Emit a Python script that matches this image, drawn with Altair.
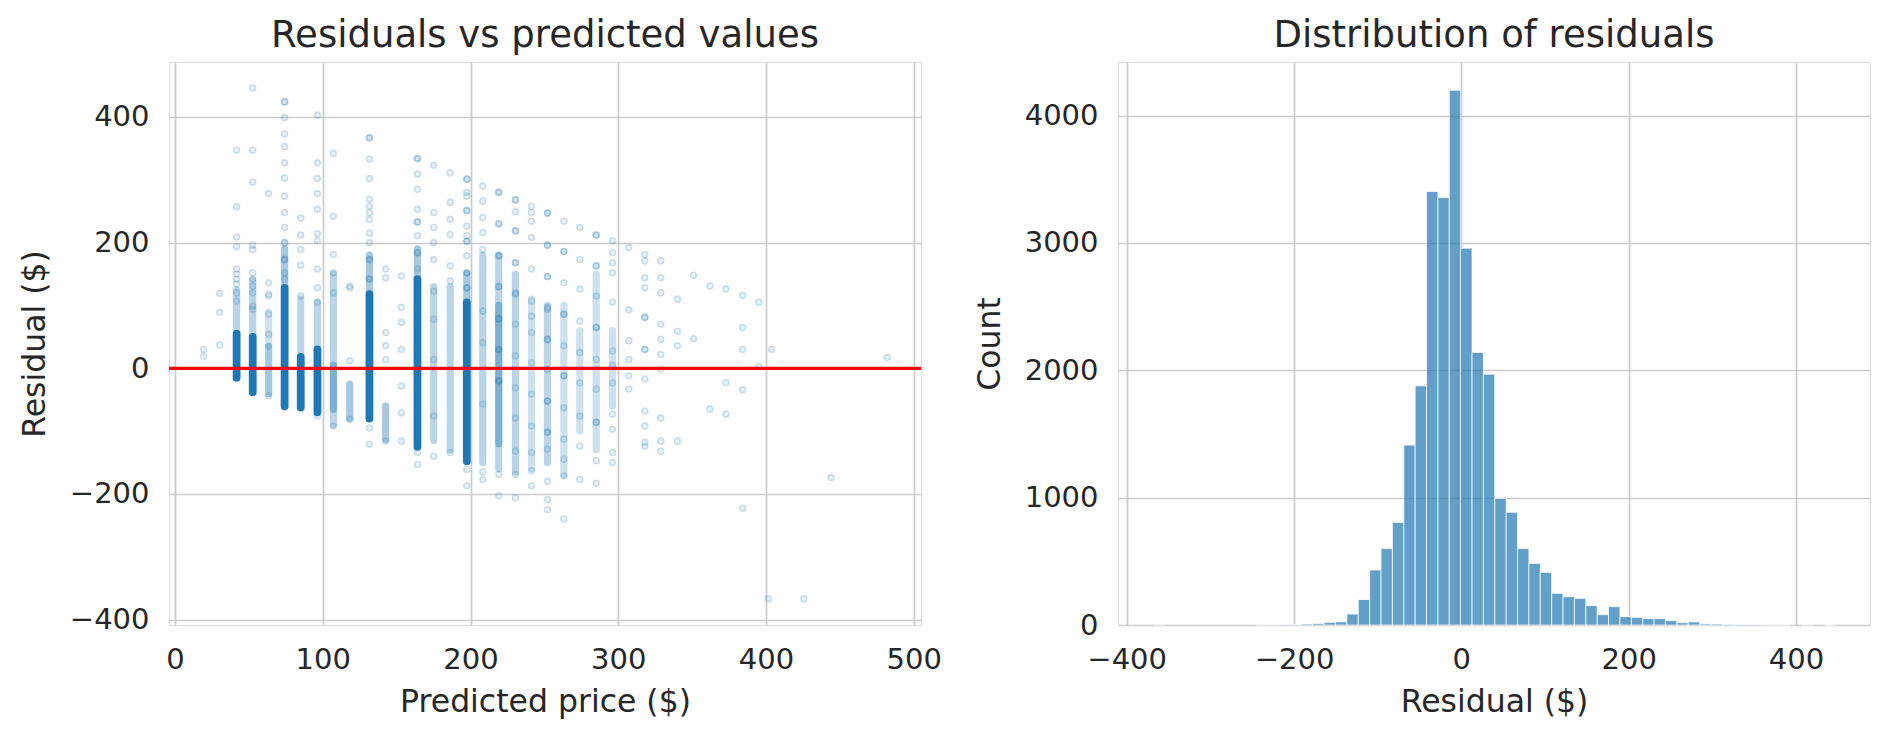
import altair as alt
import pandas as pd

BLUE = "#1f77b4"
INK = "#262626"
GRID = "#cccccc"
FONT = "DejaVu Sans"

# ---------------- left panel: residuals vs predicted values ----------------
# saturated (heavily over-plotted) column segments
dense_x = [41.7, 52.6, 74.2, 85.1, 96.4, 131.6, 164.1, 197.5]
dense_lo = [-15, -38, -60, -62, -70, -80, -125, -148]
dense_hi = [55, 50, 128, 18, 30, 118, 142, 105]

# partially over-plotted column segments and how dense they look
band_x = [41.7, 52.6, 63.4, 63.4, 74.2, 85.1, 96.4, 107.2, 107.2, 118.3, 131.6,
          142.6, 164.1, 175.1, 186.3, 197.5, 208.3, 219.1, 219.1, 230.4, 241.3,
          252.1, 263.2, 274.0, 285.1, 296.1]
band_lo = [55, 50, -40, 35, 128, 18, 30, -90, -65, -80, 118,
           -113, 142, -115, -130, 105, -150, -160, -120, -165, -160,
           -150, -170, -100, -130, -60]
band_hi = [125, 140, 35, 90, 190, 110, 105, 150, 5, -25, 180,
           -60, 190, 130, 130, 150, 180, 180, 100, 150, 110,
           100, 100, 60, 150, 60]
band_lvl = ["mid", "mid", "high", "low", "high", "mid", "mid", "mid", "high", "high", "high",
            "high", "high", "mid", "mid", "high", "mid", "mid", "high", "mid", "low",
            "mid", "low", "low", "low", "low"]

# individual (sparse) points: predicted value and residual
pt_x = ([19.4] * 2 + [30.2] * 3 + [41.7] * 10 + [52.6] * 11 + [63.4] * 7 + [74.2] * 17
        + [85.1] * 6 + [96.4] * 11 + [107.2] * 6 + [118.3] * 4 + [131.6] * 16 + [142.6] * 6
        + [153.2] * 7 + [164.1] * 13 + [175.1] * 10 + [186.3] * 7 + [197.5] * 17
        + [208.3] * 10 + [219.1] * 16 + [230.4] * 16 + [241.3] * 14 + [252.1] * 19
        + [263.2] * 14 + [274.0] * 9 + [285.1] * 13 + [296.1] * 12 + [307.2] * 6
        + [318.0] * 13 + [328.8] * 10 + [340.1] * 4 + [351.0] * 2 + [362.0] * 2
        + [372.9] * 3 + [384.2] * 5 + [395.2] * 2 + [403.8, 401.5, 425.5, 444.0, 482.0])
pt_y = ([30, 19]
        + [119, 89, 37]
        + [347, 257, 209, 194, 158, 150, 142, 134, 120, 107]
        + [446, 347, 296, 196, 189, 152, 142, 131, 120, 99, 94]
        + [278, 136, 118, 115, 86, 54, -44]
        + [424, 424, 399, 373, 353, 327, 303, 274, 248, 224, 200, 200, 173, 173, 152, 142, -63]
        + [239, 212, 189, 164, 115, -65]
        + [403, 327, 302, 278, 253, 214, 203, 158, 128, 105, -76]
        + [342, 242, 181, 152, 120, -92]
        + [131, 128, 12, -81]
        + [367, 367, 333, 302, 269, 258, 248, 237, 215, 200, 173, 173, 142, 142, -95, -121]
        + [158, 144, 57, 36, 14, -116]
        + [147, 97, 73, 30, -28, -71, -116]
        + [334, 334, 309, 285, 253, 233, 233, 211, 184, 184, 158, -134, -153]
        + [323, 248, 224, 200, 173, 123, 78, 14, -76, -140]
        + [311, 264, 237, 213, 163, 139, -134]
        + [301, 301, 280, 274, 251, 251, 226, 211, 202, 202, 179, 152, 152, 128, 128, -161, -187]
        + [290, 266, 240, 216, 189, 91, 41, -57, -165, -177]
        + [280, 280, 230, 230, 179, 179, 130, 130, 79, 79, 30, 30, -20, -20, -169, -203]
        + [268, 268, 249, 219, 219, 168, 168, 120, 118, 70, 20, -31, -79, -132, -169, -206]
        + [258, 248, 234, 208, 158, 107, 83, 57, 9, -41, -92, -134, -163, -187]
        + [247, 247, 196, 196, 146, 146, 94, 97, 46, 46, -2, -52, -52, -102, -102, -129, -180, -209, -225]
        + [234, 186, 186, 136, 86, 86, 36, -12, -12, -63, -113, -145, -171, -240]
        + [224, 173, 126, 75, 25, -23, -76, -124, -177]
        + [212, 212, 163, 163, 115, 65, 65, 14, -33, -86, -86, -147, -183]
        + [203, 184, 168, 152, 105, 28, 5, -23, -73, -97, -134, -150]
        + [192, 93, 44, 14, -12, -33]
        + [181, 171, 144, 128, 81, 81, 30, 30, -17, -68, -92, -118, -124]
        + [171, 144, 120, 70, 46, 22, -2, -79, -116, -132]
        + [110, 59, 36, -116]
        + [148, 47]
        + [131, -65]
        + [126, -23, -73]
        + [116, 65, 30, -34, -223]
        + [105, 3]
        + [30, -367, -367, -174, 17])

# ---------------- right panel: histogram of residuals ----------------
bin_lo_edge = -368.0
bin_width = 13.6
counts = [2, 0, 0, 0, 0, 0, 0, 0, 0, 1, 2, 3, 4, 8, 12, 20, 25, 86, 200, 432,
          600, 806, 1413, 1878, 3404, 3357, 4199, 2959, 2140, 1970, 994, 885, 600, 484,
          413, 249, 222, 209, 152, 81, 144, 65, 60, 50, 50, 34, 18, 24, 10, 8,
          5, 4, 3, 2, 1, 1, 0, 1, 0, 1]

# ---------------- build ----------------
W, H = 752, 563

xsc_l = alt.Scale(domain=[-4.06, 504.9], nice=False, zero=False)
ysc_l = alt.Scale(domain=[-408.6, 487.5], nice=False, zero=False)

axis_common = dict(
    grid=True, gridColor=GRID, gridWidth=1.7, ticks=False, domain=False,
    labelFont=FONT, labelFontSize=29, labelColor=INK, labelPadding=20,
    titleFont=FONT, titleFontSize=31.5, titleColor=INK, titleFontWeight="normal",
    labelFlush=False, labelOverlap=False, format="d",
)
xax_l = alt.Axis(values=[0, 100, 200, 300, 400, 500], title="Predicted price ($)",
                 titlePadding=12, **axis_common)
yax_l = alt.Axis(values=[-400, -200, 0, 200, 400], title="Residual ($)",
                 titlePadding=18, **axis_common)

dense_df = pd.DataFrame({"x": dense_x, "lo": dense_lo, "hi": dense_hi})
band_df = pd.DataFrame({"x": band_x, "lo": band_lo, "hi": band_hi, "lvl": band_lvl})
pt_df = pd.DataFrame({"x": pt_x, "y": pt_y})
zero_df = pd.DataFrame({"y": [0]})

bands = alt.Chart(band_df).mark_rule(strokeWidth=7.2, strokeCap="round", color=BLUE).encode(
    x=alt.X("x:Q", scale=xsc_l, axis=xax_l),
    y=alt.Y("lo:Q", scale=ysc_l, axis=yax_l),
    y2="hi:Q",
    opacity=alt.Opacity("lvl:N", scale=alt.Scale(domain=["low", "mid", "high"],
                                                  range=[0.22, 0.4, 0.66]), legend=None),
)
dense = alt.Chart(dense_df).mark_rule(strokeWidth=7.8, strokeCap="round", color=BLUE).encode(
    x=alt.X("x:Q", scale=xsc_l, axis=xax_l),
    y=alt.Y("lo:Q", scale=ysc_l, axis=yax_l),
    y2="hi:Q",
)
points = alt.Chart(pt_df).mark_circle(
    size=36, color=BLUE, opacity=1, fillOpacity=0.1, stroke=BLUE, strokeOpacity=0.2, strokeWidth=1.6
).encode(
    x=alt.X("x:Q", scale=xsc_l, axis=xax_l),
    y=alt.Y("y:Q", scale=ysc_l, axis=yax_l),
)
zero_line = alt.Chart(zero_df).mark_rule(color="red", strokeWidth=3.2).encode(
    y=alt.Y("y:Q", scale=ysc_l, axis=yax_l),
)

title_kw = dict(font=FONT, fontSize=37, color=INK, fontWeight="normal", anchor="middle", offset=7)

left = alt.layer(bands, points, dense, zero_line).properties(
    width=W, height=H,
    title=alt.TitleParams("Residuals vs predicted values", **title_kw),
)

hist_df = pd.DataFrame({
    "lo": [round(bin_lo_edge + bin_width * i, 2) for i in range(len(counts))],
    "hi": [round(bin_lo_edge + bin_width * (i + 1), 2) for i in range(len(counts))],
    "count": counts,
    "base": [0] * len(counts),
})
hist_df = hist_df[hist_df["count"] > 0]

xax_r = alt.Axis(values=[-400, -200, 0, 200, 400], title="Residual ($)",
                 titlePadding=12, **axis_common)
yax_r = alt.Axis(values=[0, 1000, 2000, 3000, 4000], title="Count",
                 titlePadding=18, **axis_common)

right = alt.Chart(hist_df).mark_bar(
    color=BLUE, fillOpacity=0.7, stroke="white", strokeOpacity=0.75, strokeWidth=1
).encode(
    x=alt.X("lo:Q", scale=alt.Scale(domain=[-410.4, 488.5], nice=False, zero=False), axis=xax_r),
    x2="hi:Q",
    y=alt.Y("count:Q", scale=alt.Scale(domain=[0, 4421], nice=False), axis=yax_r),
    y2="base:Q",
).properties(
    width=W, height=H,
    title=alt.TitleParams("Distribution of residuals", **title_kw),
)

chart = alt.hconcat(left, right, spacing=197, bounds="flush").properties(
    padding={"left": 10, "top": 8, "right": 5, "bottom": 5},
).configure_view(
    stroke=GRID, strokeWidth=2,
).configure(
    background="white",
)

chart.save("out.html", embed_options={"renderer": "svg", "actions": False})
